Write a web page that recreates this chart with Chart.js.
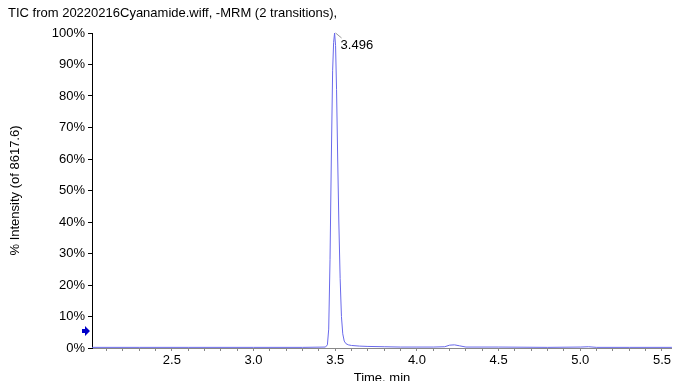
<!DOCTYPE html>
<html>
<head>
<meta charset="utf-8">
<script src="https://cdn.jsdelivr.net/npm/chart.js@4"></script>
<style>
  body { margin: 0; background: #fff; }
  canvas { display: block; }
</style>
</head>
<body>
<canvas id="ticChart" width="673" height="381"></canvas>
<script>
// TIC trace (time in min, % intensity)
const times = [2.011, 2.3, 2.6, 3.0, 3.3, 3.44, 3.452, 3.46, 3.468, 3.476, 3.484, 3.49, 3.496, 3.502, 3.508, 3.515, 3.522, 3.53, 3.538, 3.546, 3.555, 3.565, 3.58, 3.6, 3.65, 3.7, 3.8, 3.9, 4.0, 4.1, 4.17, 4.2, 4.23, 4.26, 4.3, 4.5, 4.8, 5.0, 5.05, 5.1, 5.3, 5.561];
const intensity = [0.2, 0.2, 0.2, 0.2, 0.2, 0.3, 1, 6, 28, 60, 88, 97, 100, 96, 82, 60, 40, 22, 10, 4.5, 2.2, 1.4, 1.0, 0.8, 0.6, 0.5, 0.4, 0.3, 0.3, 0.3, 0.4, 0.9, 1.0, 0.7, 0.3, 0.3, 0.2, 0.3, 0.4, 0.2, 0.2, 0.2];
const xTickLabels = [2.5, 3.0, 3.5, 4.0, 4.5, 5.0, 5.5];
const peakTime = 3.496;
const peakValue = 100;
const arrowValue = 5.4;

const font = { family: 'Liberation Sans, Arial, sans-serif', size: 13 };

// peak label + the little marker arrow on the left
const extras = {
    id: 'extras',
    afterDatasetsDraw(chart) {
        const ctx = chart.ctx;
        const x = chart.scales.x;
        const y = chart.scales.y;
        const px = x.getPixelForValue(peakTime);
        const py = y.getPixelForValue(peakValue);
        ctx.save();
        ctx.strokeStyle = '#999';
        ctx.lineWidth = 1;
        ctx.beginPath();
        ctx.moveTo(px + 1, py);
        ctx.lineTo(px + 7, py + 5);
        ctx.stroke();
        ctx.fillStyle = '#000';
        ctx.font = '13px Liberation Sans, Arial, sans-serif';
        ctx.textBaseline = 'middle';
        ctx.fillText(peakTime.toFixed(3), px + 6, py + 12);

        // arrow
        const ay = y.getPixelForValue(arrowValue);
        const ax = chart.chartArea.left - 2;
        ctx.fillStyle = '#0000c8';
        ctx.beginPath();
        ctx.moveTo(ax, ay);
        ctx.lineTo(ax - 5, ay - 5);
        ctx.lineTo(ax - 5, ay - 2);
        ctx.lineTo(ax - 8, ay - 2);
        ctx.lineTo(ax - 8, ay + 2);
        ctx.lineTo(ax - 5, ay + 2);
        ctx.lineTo(ax - 5, ay + 5);
        ctx.closePath();
        ctx.fill();
        ctx.restore();
    }
};

const points = times.map((t, i) => ({ x: t, y: intensity[i] }));

new Chart(document.getElementById('ticChart'), {
    type: 'line',
    data: {
        datasets: [{
            data: points,
            borderColor: 'rgb(105, 105, 235)',
            borderWidth: 1,
            pointRadius: 0,
            tension: 0,
            fill: false
        }]
    },
    options: {
        responsive: false,
        animation: false,
        layout: { padding: { left: 8, right: 0, top: 0, bottom: 0 } },
        plugins: {
            legend: { display: false },
            tooltip: { enabled: false },
            title: {
                display: true,
                text: 'TIC from 20220216Cyanamide.wiff, -MRM (2 transitions),',
                align: 'start',
                color: '#000',
                font: { ...font, weight: 'normal' },
                padding: { top: 6, bottom: 11.4 }
            }
        },
        scales: {
            x: {
                type: 'linear',
                min: 2.011,
                max: 5.561,
                afterFit(s) { s.height = 33; },
                afterBuildTicks(s) {
                    const t = [];
                    for (let v = 21; v <= 55; v++) t.push({ value: v / 10 });
                    s.ticks = t;
                },
                ticks: {
                    autoSkip: false,
                    maxRotation: 0,
                    color: '#000',
                    font: font,
                    padding: 2,
                    callback: (v) => {
                        const hit = xTickLabels.find(l => Math.abs(l - v) < 1e-6);
                        return hit !== undefined ? hit.toFixed(1) : '';
                    }
                },
                grid: { drawOnChartArea: false, tickLength: 3, color: '#888' },
                border: { color: '#888' },
                title: {
                    display: true,
                    text: 'Time, min',
                    color: '#000',
                    font: font,
                    padding: { top: 0, bottom: -5 }
                }
            },
            y: {
                min: 0,
                max: 100,
                afterFit(s) { s.width = 84; },
                ticks: {
                    stepSize: 10,
                    color: '#000',
                    font: font,
                    padding: 3,
                    callback: (v) => v + '%'
                },
                grid: { drawOnChartArea: false, tickLength: 4, color: '#000' },
                border: { color: '#000' },
                title: {
                    display: true,
                    text: '% Intensity (of 8617.6)',
                    color: '#000',
                    font: font,
                    padding: 0
                }
            }
        }
    },
    plugins: [extras]
});
</script>
</body>
</html>
